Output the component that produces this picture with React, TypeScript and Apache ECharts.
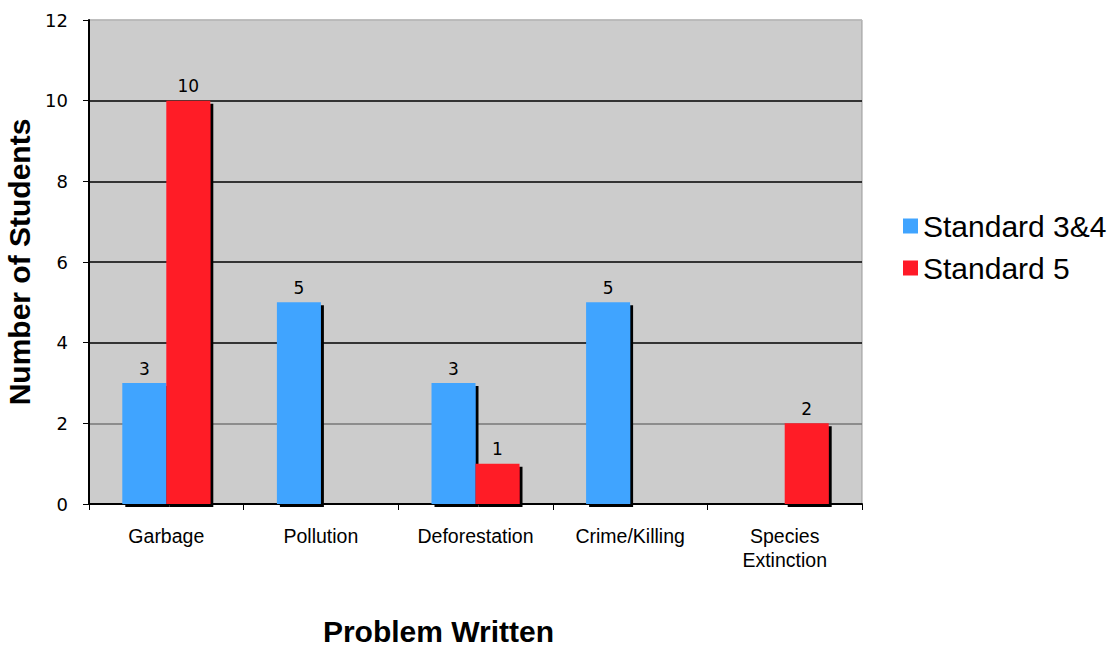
import React, { useEffect, useRef } from "react";
import * as echarts from "echarts";

const categories = ["Garbage", "Pollution", "Deforestation", "Crime/Killing", "Species\nExtinction"];
const std34 = [3, 5, 3, 5, null];
const std5 = [10, null, 1, null, 2];
const seriesNames = ["Standard 3&4", "Standard 5"];
const yTicks = { min: 0, max: 12, interval: 2 };

export default function App() {
  const ref = useRef<HTMLDivElement>(null);
  useEffect(() => {
    const chart = echarts.init(ref.current!, null, { renderer: "svg" });
    const labelStyle = {
      show: true,
      position: "top" as const,
      color: "#000",
      fontSize: 17,
      fontFamily: "DejaVu Sans",
      distance: 6,
    };
    const shadow = { shadowColor: "#000", shadowOffsetX: 3, shadowOffsetY: 3, shadowBlur: 0 };
    chart.setOption({
      animation: false,
      grid: {
        left: 89,
        right: 253,
        top: 20,
        bottom: 142,
        show: true,
        backgroundColor: "#cccccc",
        borderColor: "#999",
        borderWidth: 1,
        outerBoundsMode: "none",
        containLabel: false,
      },
      legend: {
        orient: "vertical",
        left: 898,
        top: 206,
        itemWidth: 15,
        itemHeight: 15,
        itemGap: 12,
        icon: "rect",
        textStyle: { fontSize: 30, fontFamily: "Liberation Sans", color: "#000" },
        data: seriesNames,
      },
      xAxis: {
        type: "category",
        data: categories,
        name: "Problem Written",
        nameLocation: "middle",
        nameGap: 112,
        nameTextStyle: {
          fontSize: 30,
          fontWeight: "bold",
          fontFamily: "Liberation Sans",
          color: "#000",
          padding: [0, 74, 0, 0],
        },
        axisLine: { lineStyle: { color: "#000", width: 2 } },
        axisTick: { show: true, length: 6, lineStyle: { color: "#000", width: 1 } },
        axisLabel: {
          color: "#000",
          fontSize: 19.5,
          fontFamily: "Liberation Sans",
          margin: 20,
          lineHeight: 24,
        },
      },
      yAxis: {
        type: "value",
        min: yTicks.min,
        max: yTicks.max,
        interval: yTicks.interval,
        name: "Number of Students",
        nameLocation: "middle",
        nameGap: 50,
        nameTextStyle: { fontSize: 30, fontWeight: "bold", fontFamily: "Liberation Sans", color: "#000" },
        axisLine: { show: true, lineStyle: { color: "#000", width: 2 } },
        axisTick: { show: true, length: 6, lineStyle: { color: "#000" } },
        axisLabel: { color: "#000", fontSize: 18, fontFamily: "DejaVu Sans", margin: 21 },
        splitLine: {
          show: true,
          lineStyle: { color: ["#000", "#777", "#000", "#000", "#000", "#000", "#bbb"], width: 1.5 },
        },
      },
      series: [
        {
          name: seriesNames[0],
          type: "bar",
          data: std34,
          barWidth: 44,
          barGap: "0%",
          itemStyle: { color: "#40a4ff", ...shadow },
          label: labelStyle,
        },
        {
          name: seriesNames[1],
          type: "bar",
          data: std5,
          barWidth: 44,
          barGap: "0%",
          itemStyle: { color: "#ff1a28", ...shadow },
          label: labelStyle,
        },
      ],
    });
    return () => chart.dispose();
  }, []);
  return (
    <div
      ref={ref}
      style={{ position: "fixed", left: 0, top: 0, width: 1115, height: 646, background: "#fff" }}
    />
  );
}
